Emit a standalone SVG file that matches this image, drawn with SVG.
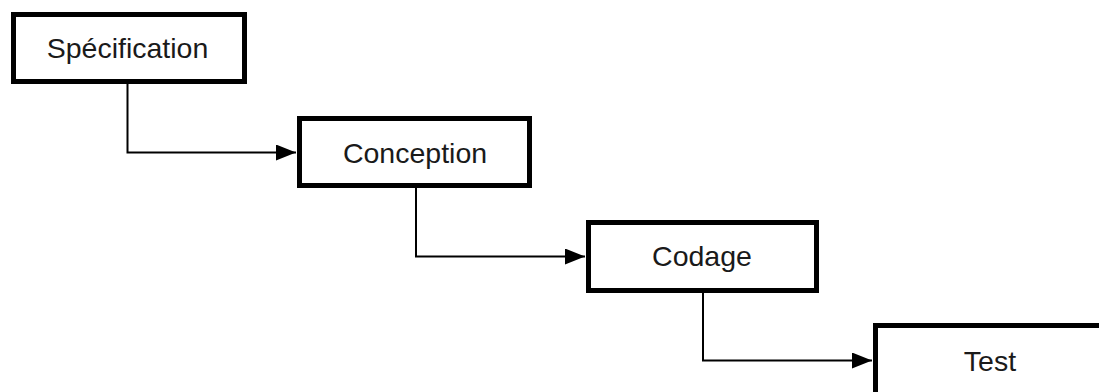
<svg xmlns="http://www.w3.org/2000/svg" width="1099" height="392" viewBox="0 0 1099 392">
  <style>
    .box { fill: #ffffff; stroke: #000000; stroke-width: 5; }
    .lbl { font-family: "Liberation Sans", Arial, sans-serif; font-size: 28.5px; fill: #1a1a1a; text-anchor: middle; }
    .conn { fill: none; stroke: #000000; stroke-width: 2; }
  </style>
  <defs>
    <marker id="arrow" markerUnits="userSpaceOnUse" markerWidth="20" markerHeight="16" refX="20" refY="8" orient="auto">
      <polygon points="0,0 20,8 0,16" fill="#000000"/>
    </marker>
  </defs>
  <rect width="1099" height="392" fill="#ffffff"/>
  <g id="connectors">
    <path class="conn" d="M127.5,84 V152.5 H296" marker-end="url(#arrow)"/>
    <path class="conn" d="M416,188 V256.5 H585" marker-end="url(#arrow)"/>
    <path class="conn" d="M703,293 V360.5 H872" marker-end="url(#arrow)"/>
  </g>
  <g id="specification">
    <rect class="box" x="13.5" y="14.5" width="231" height="67"/>
    <text class="lbl" x="127.5" y="58">Spécification</text>
  </g>
  <g id="conception">
    <rect class="box" x="299.5" y="118.5" width="230" height="67"/>
    <text class="lbl" x="415" y="162.5">Conception</text>
  </g>
  <g id="codage">
    <rect class="box" x="588.5" y="222.5" width="228" height="68"/>
    <text class="lbl" x="702" y="266">Codage</text>
  </g>
  <g id="test">
    <rect class="box" x="875.5" y="325.5" width="300" height="100"/>
    <text class="lbl" x="990" y="370.5">Test</text>
  </g>
</svg>
